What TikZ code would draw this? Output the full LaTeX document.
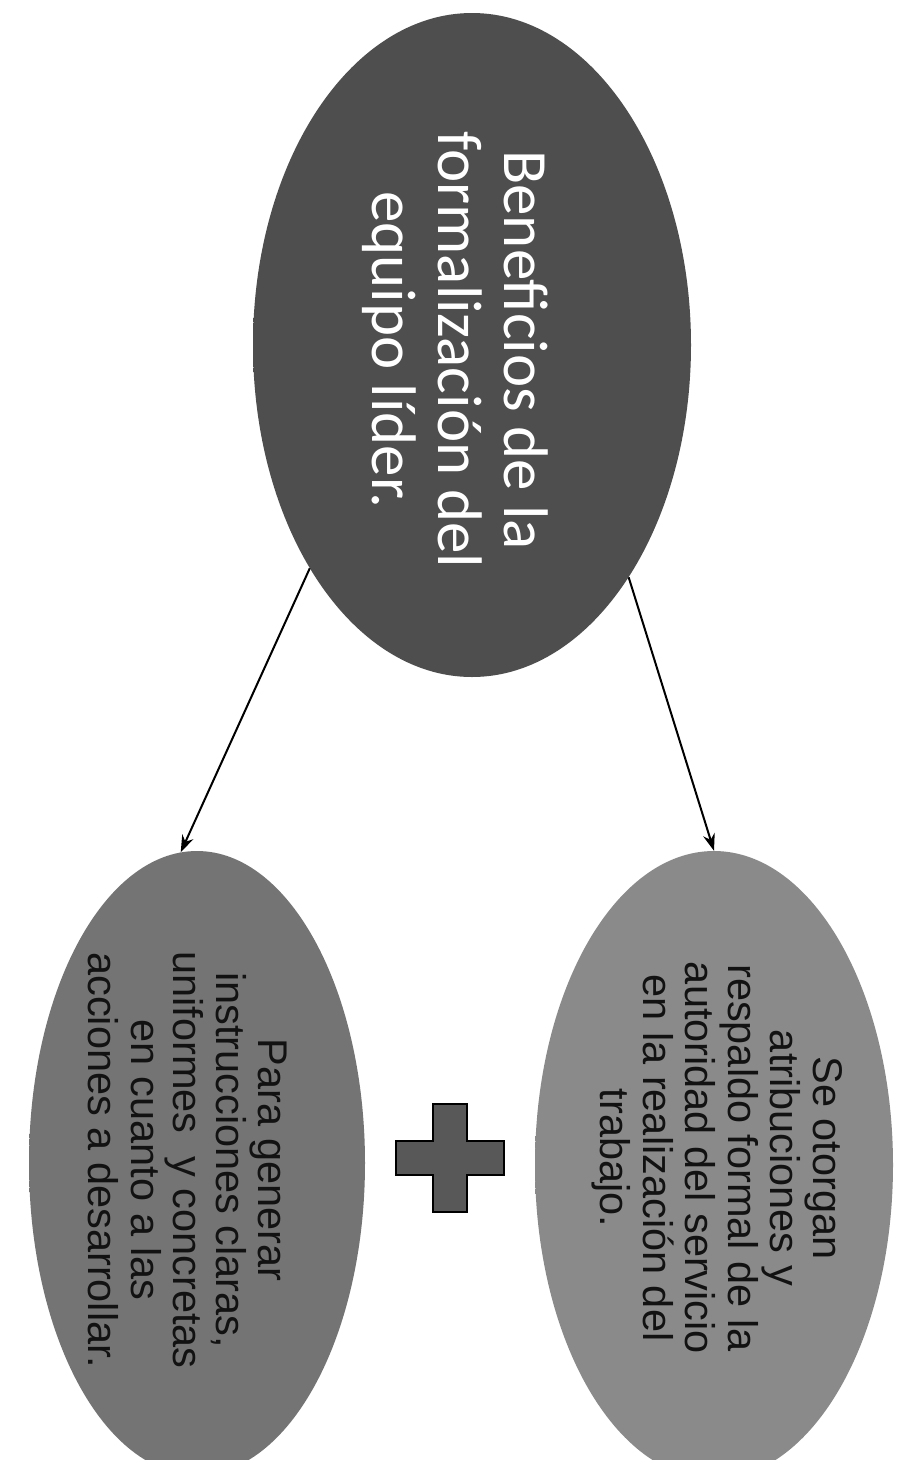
\documentclass[tikz,border=0pt]{standalone}
\usepackage{fontspec}
\setmainfont{Liberation Sans}
\newfontfamily\titlefont{Carlito}
\usetikzlibrary{shapes.geometric,arrows.meta}
\definecolor{topin}{RGB}{78,78,78}
\definecolor{topout}{RGB}{108,108,108}
\definecolor{leftin}{RGB}{116,116,116}
\definecolor{leftout}{RGB}{142,142,142}
\definecolor{rightin}{RGB}{138,138,138}
\definecolor{rightout}{RGB}{162,162,162}
\definecolor{plusgray}{RGB}{88,88,88}
\definecolor{bodytext}{RGB}{18,18,18}
\pgfdeclareradialshading{topshade}{\pgfpoint{0bp}{0bp}}{color(0bp)=(topin); color(40bp)=(topin); color(50bp)=(topout)}
\pgfdeclareradialshading{leftshade}{\pgfpoint{0bp}{0bp}}{color(0bp)=(leftin); color(40bp)=(leftin); color(50bp)=(leftout)}
\pgfdeclareradialshading{rightshade}{\pgfpoint{0bp}{0bp}}{color(0bp)=(rightin); color(40bp)=(rightin); color(50bp)=(rightout)}
\begin{document}
\begin{tikzpicture}[x=1pt,y=-1pt,
  blob/.style={ellipse, inner sep=0pt, shade},
  titletext/.style={rotate=-90, align=center, text=white, inner sep=0pt,
    font=\titlefont\fontsize{63}{66}\selectfont},
  bodytxt/.style={rotate=-90, align=center, text=bodytext, inner sep=0pt,
    font=\fontsize{41.5}{42.5}\selectfont},
  link/.style={-{Stealth[length=17pt,width=12pt]}, line width=2pt, black},
  plusmark/.style={fill=plusgray, draw=black, line width=2pt, line join=miter}
]
\useasboundingbox (0,0) rectangle (903,1460);
\clip (0,0) rectangle (903,1460);
\fill[white] (0,0) rectangle (903,1460);

\node[blob, shading=topshade, minimum width=438pt, minimum height=664pt] (top) at (472,345) {};
\node[blob, shading=leftshade, minimum width=336pt, minimum height=624pt] (left) at (197,1163) {};
\node[blob, shading=rightshade, minimum width=358pt, minimum height=628pt] (right) at (714,1165) {};

\node[titletext] (ttl) at (455,350) {Beneficios de la\\formalización del\\equipo líder.};
\node[bodytxt] (ltxt) at (188,1160) {Para generar\\instrucciones claras,\\uniformes~ y concretas\\en cuanto a las\\acciones a desarrollar.};
\node[bodytxt] (rtxt) at (717,1158) {Se otorgan\\atribuciones y\\respaldo formal de la\\autoridad del servicio\\en la realización del\\trabajo.};

\draw[link] (top.234) -- (left.93);
\draw[link] (top.-56) -- (right.north);

\coordinate (plus) at (450,1158);
\draw[plusmark, shift={(plus)}] (-17,-54) -- (17,-54) -- (17,-17) -- (54,-17) -- (54,17) -- (17,17) -- (17,54) -- (-17,54) -- (-17,17) -- (-54,17) -- (-54,-17) -- (-17,-17) -- cycle;
\end{tikzpicture}
\end{document}
